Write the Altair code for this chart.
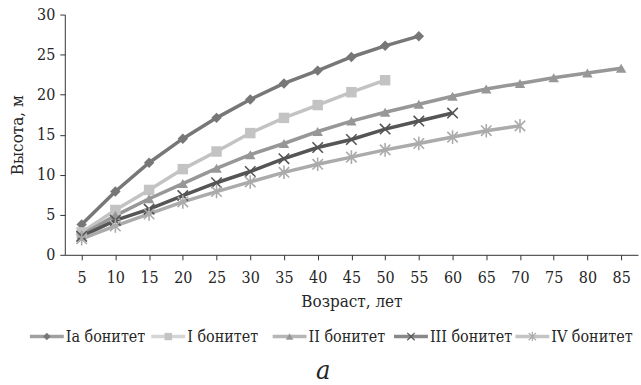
import altair as alt
import pandas as pd

ages = [5, 10, 15, 20, 25, 30, 35, 40, 45, 50, 55, 60, 65, 70, 75, 80, 85]
series_names = ["Ia бонитет", "I бонитет", "II бонитет", "III бонитет", "IV бонитет"]
h_Ia = [3.8, 7.9, 11.5, 14.5, 17.1, 19.4, 21.4, 23.0, 24.7, 26.1, 27.3]
h_I = [2.8, 5.6, 8.1, 10.7, 12.9, 15.2, 17.1, 18.7, 20.3, 21.8]
h_II = [2.5, 4.9, 7.0, 8.9, 10.8, 12.5, 13.9, 15.4, 16.7, 17.8, 18.8, 19.8, 20.7, 21.4, 22.1, 22.7, 23.3]
h_III = [2.3, 4.3, 5.7, 7.4, 9.0, 10.4, 12.0, 13.4, 14.4, 15.7, 16.7, 17.7]
h_IV = [2.0, 3.6, 5.1, 6.6, 7.9, 9.1, 10.3, 11.3, 12.2, 13.1, 13.9, 14.7, 15.5, 16.1]
all_heights = [h_Ia, h_I, h_II, h_III, h_IV]

colors = ["#777777", "#c3c3c3", "#979797", "#555555", "#ababab"]
shapes = [
    "diamond",
    "square",
    "triangle-up",
    "M-1,-1L1,1M-1,1L1,-1",
    "M-1,-1L1,1M-1,1L1,-1M0,-1.3L0,1.3",
]
filled_set = ["Ia бонитет", "I бонитет", "II бонитет"]

rows = []
for name, hs in zip(series_names, all_heights):
    for a, h in zip(ages, hs):
        rows.append({"age": str(a), "h": h, "series": name})
df = pd.DataFrame(rows)
age_labels = [str(a) for a in ages]

FONT = "DejaVu Serif Condensed, DejaVu Serif"
TXT = "#262626"

color_scale = alt.Scale(domain=series_names, range=colors)
shape_scale = alt.Scale(domain=series_names, range=shapes)

axis_style = dict(
    labelFont=FONT, titleFont=FONT, labelFontSize=16, titleFontSize=17,
    labelColor=TXT, titleColor=TXT, titleFontWeight="normal",
    domainColor="#333333", tickColor="#333333", tickSize=5,
)

x_enc = alt.X(
    "age:O",
    sort=age_labels,
    scale=alt.Scale(domain=age_labels, paddingInner=0, paddingOuter=0),
    axis=alt.Axis(
        title="Возраст, лет",
        labelAngle=0,
        bandPosition=0,
        labelPadding=10,
        titlePadding=8,
        **axis_style,
    ),
)
y_enc = alt.Y(
    "h:Q",
    scale=alt.Scale(domain=[0, 30], nice=False),
    axis=alt.Axis(
        title="Высота, м",
        values=[0, 5, 10, 15, 20, 25, 30],
        grid=False,
        labelPadding=5,
        titlePadding=10,
        **axis_style,
    ),
)

base = alt.Chart(df).encode(x=x_enc, y=y_enc)

lines = base.mark_line(strokeWidth=3.5).encode(
    color=alt.Color("series:N", scale=color_scale, legend=None),
    detail="series:N",
)
pts_filled = base.transform_filter(
    alt.FieldOneOfPredicate(field="series", oneOf=filled_set)
).mark_point(filled=True, size=110, opacity=1).encode(
    color=alt.Color("series:N", scale=color_scale, legend=None),
    shape=alt.Shape("series:N", scale=shape_scale, legend=None),
)
pts_open = base.transform_filter(
    ~alt.FieldOneOfPredicate(field="series", oneOf=filled_set)
).mark_point(filled=False, size=110, strokeWidth=1.6, opacity=1).encode(
    color=alt.Color("series:N", scale=color_scale, legend=None),
    shape=alt.Shape("series:N", scale=shape_scale, legend=None),
)

main = alt.layer(lines, pts_filled, pts_open).properties(width=575, height=241)

leg_df = pd.DataFrame({"series": series_names})
leg_x = alt.X(
    "series:N",
    sort=series_names,
    scale=alt.Scale(type="point", domain=series_names, range=[-18, 469], padding=0),
    axis=None,
)
leg_base = alt.Chart(leg_df).encode(x=leg_x, y=alt.value(8))
leg_tick = leg_base.mark_tick(orient="horizontal", thickness=3.5, size=34).encode(
    color=alt.Color("series:N", scale=color_scale, legend=None)
)
leg_pf = leg_base.transform_filter(
    alt.FieldOneOfPredicate(field="series", oneOf=filled_set)
).mark_point(filled=True, size=55, opacity=1).encode(
    color=alt.Color("series:N", scale=color_scale, legend=None),
    shape=alt.Shape("series:N", scale=shape_scale, legend=None),
)
leg_po = leg_base.transform_filter(
    ~alt.FieldOneOfPredicate(field="series", oneOf=filled_set)
).mark_point(filled=False, size=55, strokeWidth=1.2, opacity=1).encode(
    color=alt.Color("series:N", scale=color_scale, legend=None),
    shape=alt.Shape("series:N", scale=shape_scale, legend=None),
)
leg_text = leg_base.mark_text(
    align="left", baseline="middle", dx=19, font=FONT, fontSize=16, color=TXT
).encode(text="series:N")

legend_chart = alt.layer(leg_tick, leg_pf, leg_po, leg_text).properties(
    width=450, height=16
)

chart = (
    alt.vconcat(main, legend_chart, spacing=19)
    .properties(
        padding={"left": 8, "top": 6, "right": 3, "bottom": 3},
        title=alt.TitleParams(
            "а", orient="bottom", anchor="middle", font=FONT, fontSize=27,
            fontStyle="italic", fontWeight="normal", color=TXT, offset=14,
        ),
    )
    .configure_view(stroke=None)
)

chart.save("out.html", embed_options={"renderer": "svg", "actions": False})
